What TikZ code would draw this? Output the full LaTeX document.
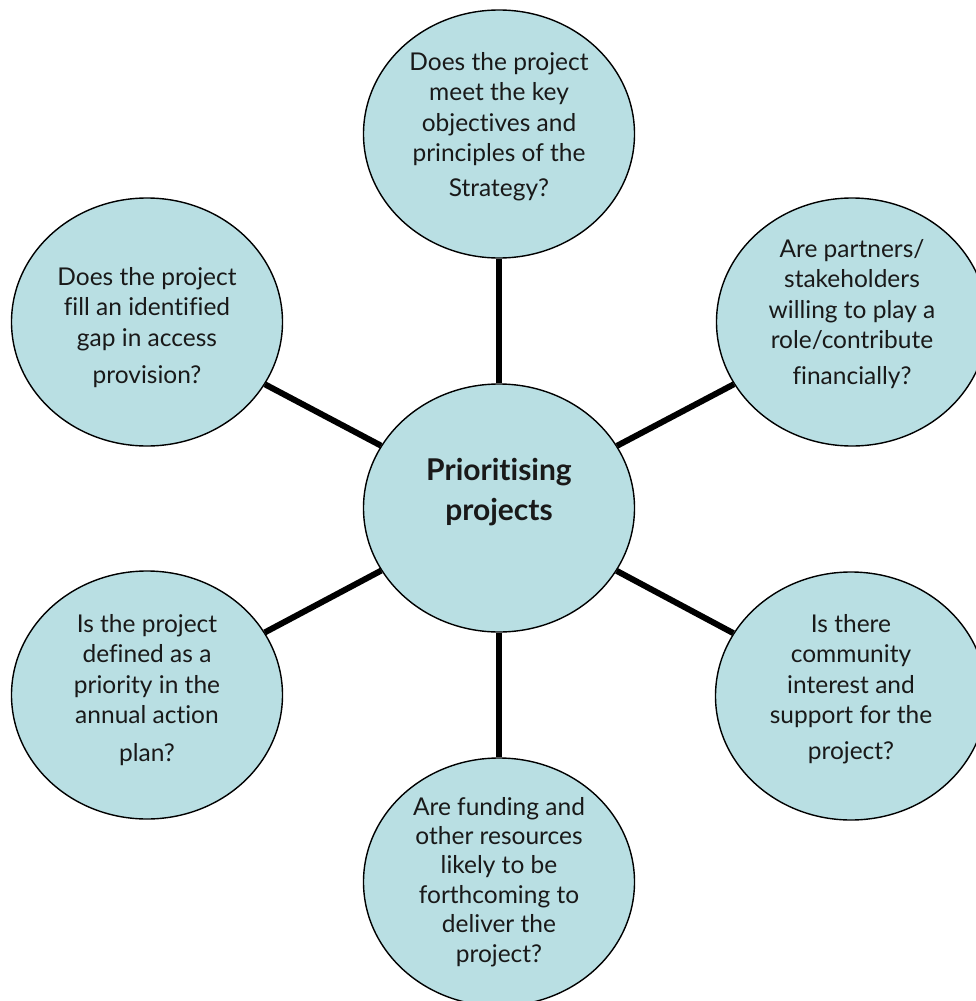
\documentclass[tikz,border=0pt]{standalone}
\usepackage{fontspec}
\setmainfont{Lato}[Ligatures=NoCommon]
\usetikzlibrary{shapes.geometric}
\definecolor{bubble}{HTML}{B9DFE3}
\newcommand{\qlines}[1]{\begin{tabular}[t]{@{}c@{}}#1\end{tabular}}
\tikzset{
  bubble/.style={ellipse, draw=black, line width=1.4pt, fill=bubble,
    minimum width=271pt, minimum height=248pt, inner sep=0pt},
  qtext/.style={anchor=base, inner sep=0pt, text=black!90,
    font=\fontsize{24.5}{30.5}\selectfont},
  spoke/.style={draw=black, line width=6pt},
  hubtext/.style={anchor=base, inner sep=0pt, text=black!90,
    font=\bfseries\fontsize{30}{40}\selectfont}
}
\begin{document}
\begin{tikzpicture}[x=1pt, y=-1pt]
\useasboundingbox (0,0) rectangle (976,1001);
\clip (0,0) rectangle (976,1001);
\node[bubble] (c) at (499,508) {};
\node[bubble] (t) at (499,134) {};
\node[bubble] (tl) at (147,322) {};
\node[bubble] (tr) at (852,322) {};
\node[bubble] (bl) at (147,695) {};
\node[bubble] (br) at (851,696) {};
\node[bubble] (b) at (499,882) {};
\foreach \n in {t,tl,tr,bl,br,b} \draw[spoke] (c) -- (\n);
\node[hubtext] (ct) at (499,480) {\qlines{Prioritising\\projects}};
\node[qtext] (tt) at (499,70) {\qlines{Does the project\\meet the key\\objectives and\\principles of the\\[4pt]Strategy?}};
\node[qtext] (tlt) at (147,285) {\qlines{Does the project\\fill an identified\\gap in access\\[7pt]provision?}};
\node[qtext] (trt) at (852,257) {\qlines{Are partners/\\stakeholders\\willing to play a\\role/contribute\\[5pt]financially?}};
\node[qtext] (blt) at (147,632) {\qlines{Is the project\\defined as a\\priority in the\\annual action\\[7pt]plan?}};
\node[qtext] (brt) at (851,632) {\qlines{Is there\\community\\interest and\\support for the\\[5pt]project?}};
\node[qtext,font=\fontsize{24.5}{29.4}\selectfont] (bt) at (499,815) {\qlines{Are funding and\\other resources\\likely to be\\forthcoming to\\deliver the\\project?}};
\end{tikzpicture}
\end{document}
